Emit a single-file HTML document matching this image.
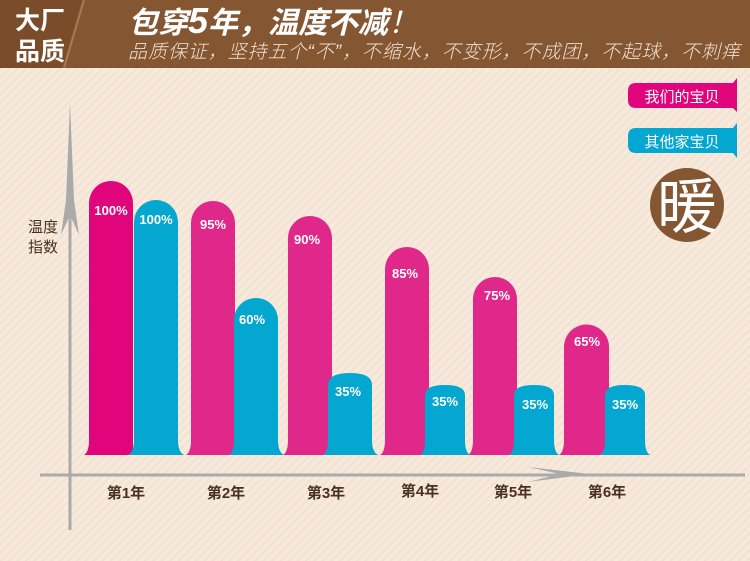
<!DOCTYPE html>
<html><head><meta charset="utf-8"><style>
html,body{margin:0;padding:0;width:750px;height:561px;overflow:hidden;background:#f7eadc}
svg{display:block}
text{font-family:"Liberation Sans","Noto Sans CJK SC",sans-serif}
</style></head><body>
<svg width="750" height="561" viewBox="0 0 750 561">
<defs>
<pattern id="st" width="6" height="6" patternUnits="userSpaceOnUse" patternTransform="rotate(45)">
<rect width="6" height="6" fill="#f7eadc"/><rect width="2" height="6" fill="#f2e2d2"/></pattern>
</defs>
<rect width="750" height="561" fill="url(#st)"/>
<rect x="0" y="0" width="750" height="68" fill="#855632"/>
<polygon points="0,0 82,0 62,68 0,68" fill="#7a4c2a"/>
<line x1="84" y1="0" x2="64" y2="68" stroke="#a87a52" stroke-width="2"/>
<text x="40" y="29" font-size="25" font-weight="bold" fill="#fff" text-anchor="middle">大厂</text>
<text x="40" y="60" font-size="25" font-weight="bold" fill="#fff" text-anchor="middle">品质</text>
<text x="128" y="33" font-size="30" font-weight="bold" font-style="italic" fill="#fff">包穿<tspan font-size="36">5</tspan>年，温度不减<tspan font-weight="normal">！</tspan></text>
<text x="128" y="58" font-size="19" font-style="italic" font-weight="300" fill="#f0e0d0" textLength="612">品质保证，坚持五个“不”，不缩水，不变形，不成团，不起球，不刺痒</text>
<!-- axes -->
<line x1="70" y1="200" x2="70" y2="530" stroke="#aaa" stroke-width="3"/>
<polygon points="70,103 74,200 79,235 70,215 61,235 66,200" fill="#aaa"/>
<line x1="40" y1="475" x2="745" y2="475" stroke="#aaa" stroke-width="3"/>
<polygon points="528,467 590,474 528,482 560,474" fill="#aaa"/>
<text x="28" y="232" font-size="15" fill="#4a3020">温度</text>
<text x="28" y="252" font-size="15" fill="#4a3020">指数</text>
<!-- bars -->
<g fill="#e0288a">
<path d="M84,455 Q89,452 89,440 V203 A22,22 0 0 1 133,203 V455 Z" fill="#e0057a"/>
<path d="M186,455 Q191,452 191,440 V223 A22,22 0 0 1 235,223 V455 Z"/>
<path d="M283,455 Q288,452 288,440 V238 A22,22 0 0 1 332,238 V455 Z"/>
<path d="M380,455 Q385,452 385,440 V269 A22,22 0 0 1 429,269 V455 Z"/>
<path d="M468,455 Q473,452 473,440 V299 A22,22 0 0 1 517,299 V455 Z"/>
<path d="M559,455 Q564,452 564,440 V347 A22,22 0 0 1 609,347 V455 Z"/>
</g>
<g fill="#03a7cf">
<path d="M128,455 Q134,452 134,440 V222 A22,22 0 0 1 178,222 V440 Q178,452 184,455 Z"/>
<path d="M229,455 Q234,452 234,440 V320 A22,22 0 0 1 278,320 V440 Q278,452 284,455 Z"/>
<path d="M323,455 Q328,452 328,440 V385 Q328,373 350,373 Q372,373 372,385 V440 Q372,452 378,455 Z"/>
<path d="M420,455 Q425,452 425,440 V395 Q425,385 445,385 Q465,385 465,395 V440 Q465,452 470,455 Z"/>
<path d="M509,455 Q514,452 514,440 V395 Q514,385 534,385 Q554,385 554,395 V440 Q554,452 559,455 Z"/>
<path d="M600,455 Q605,452 605,440 V395 Q605,385 625,385 Q645,385 645,395 V440 Q645,452 650,455 Z"/>
</g>
<g font-size="13" font-weight="bold" fill="#fff" text-anchor="middle">
<text x="111" y="215">100%</text><text x="156" y="224">100%</text>
<text x="213" y="229">95%</text><text x="252" y="324">60%</text>
<text x="307" y="244">90%</text><text x="348" y="396">35%</text>
<text x="405" y="278">85%</text><text x="445" y="406">35%</text>
<text x="497" y="300">75%</text><text x="535" y="409">35%</text>
<text x="587" y="346">65%</text><text x="625" y="409">35%</text>
</g>
<g font-size="15" font-weight="bold" fill="#4a3020" text-anchor="middle">
<text x="126" y="498">第1年</text><text x="226" y="498">第2年</text>
<text x="326" y="498">第3年</text><text x="420" y="496">第4年</text>
<text x="513" y="497">第5年</text><text x="607" y="497">第6年</text>
</g>
<!-- legend -->
<path d="M636,83 H733 L737,78 V112 L733,108 H636 Q628,108 628,100 V91 Q628,83 636,83 Z" fill="#e0057a"/>
<text x="682" y="102" font-size="15" fill="#fff" text-anchor="middle">我们的宝贝</text>
<path d="M636,128 H733 L737,123 V158 L733,153 H636 Q628,153 628,145 V136 Q628,128 636,128 Z" fill="#03a7cf"/>
<text x="682" y="147" font-size="15" fill="#fff" text-anchor="middle">其他家宝贝</text>
<circle cx="687" cy="205" r="37" fill="#855632"/>
<text x="687" y="228" font-size="60" fill="#fff" text-anchor="middle">暖</text>
</svg>
</body></html>
